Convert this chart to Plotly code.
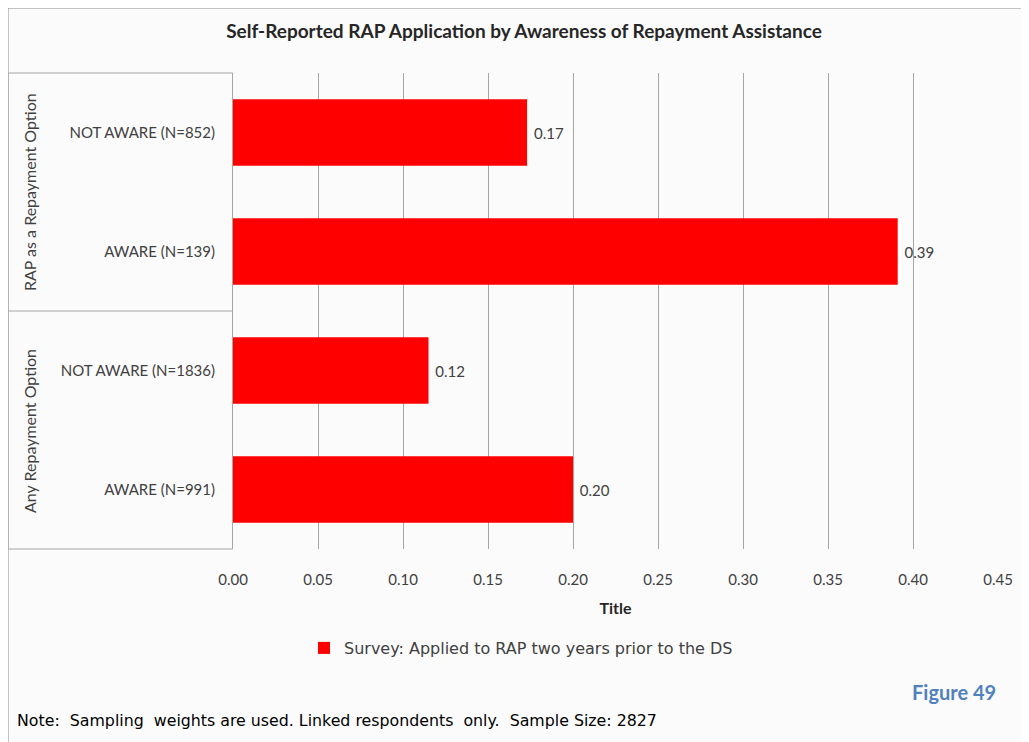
import plotly.graph_objects as go

# chart data
categories = ["NOT AWARE (N=852)", "AWARE (N=139)", "NOT AWARE (N=1836)", "AWARE (N=991)"]
applied_rap = [0.173, 0.391, 0.115, 0.200]
groups = ["RAP as a Repayment Option", "Any Repayment Option"]
x_ticks = [0.00, 0.05, 0.10, 0.15, 0.20, 0.25, 0.30, 0.35, 0.40, 0.45]
series_name = "Survey: Applied to RAP two years prior to the DS"

W, H = 1029, 742
OFF = 8  # page body margin
FONT = "Lato"
WIDE = "DejaVu Sans"


def px(x):
    return (x - OFF) / W


def py(y):
    return 1 - (y - OFF) / H


fig = go.Figure()

fig.add_trace(go.Bar(
    x=applied_rap,
    y=categories,
    orientation="h",
    marker=dict(color="#ff0000", line=dict(width=0)),
    text=applied_rap,
    texttemplate="&nbsp;%{x:.2f}",
    textposition="outside",
    textfont=dict(family=FONT, size=15, color="#404040"),
    cliponaxis=False,
    name=series_name,
    showlegend=True,
))

grid_color = "#a6a6a6"
box_color = "#a6a6a6"

shapes = [
    # outer chart frame
    dict(type="rect", xref="paper", yref="paper", x0=px(8), x1=px(1060),
         y0=py(780), y1=py(8), line=dict(color="#8c8c8c", width=1),
         fillcolor="#fbfbfb", layer="below"),
    # category group box
    dict(type="rect", xref="paper", yref="paper", x0=px(8), x1=px(232.5),
         y0=py(549), y1=py(73), line=dict(color=box_color, width=1)),
    dict(type="line", xref="paper", yref="paper", x0=px(8), x1=px(232.5),
         y0=py(311), y1=py(311), line=dict(color=box_color, width=1)),
]

annotations = [
    dict(text=groups[0], x=px(29), y=py(192), xref="paper", yref="paper",
         xanchor="center", yanchor="middle",
         textangle=-90, showarrow=False, font=dict(family=FONT, size=16, color="#404040")),
    dict(text=groups[1], x=px(29), y=py(431), xref="paper", yref="paper",
         xanchor="center", yanchor="middle",
         textangle=-90, showarrow=False, font=dict(family=FONT, size=16, color="#404040")),
    dict(text="<b>Figure 49</b>", x=px(998), y=py(692), xref="paper", yref="paper",
         xanchor="right", yanchor="middle", showarrow=False,
         font=dict(family=FONT, size=20, color="#4f81bd")),
    dict(text="Note:&nbsp; Sampling&nbsp; weights are used. Linked respondents&nbsp; only.&nbsp; Sample Size: 2827",
         x=px(15), y=py(720), xref="paper", yref="paper", xanchor="left", yanchor="middle",
         showarrow=False, font=dict(family=WIDE, size=15.8, color="#000000")),
]

fig.update_layout(
    width=W, height=H,
    margin=dict(l=0, r=0, t=0, b=0),
    paper_bgcolor="#ffffff",
    plot_bgcolor="rgba(0,0,0,0)",
    font=dict(family=FONT, size=15, color="#404040"),
    title=dict(text="<b>Self-Reported RAP Application by Awareness of Repayment Assistance</b>",
               x=px(524), xanchor="center", y=py(31), yanchor="middle",
               font=dict(family=FONT, size=19, color="#262626")),
    bargap=0.44,
    shapes=shapes,
    annotations=annotations,
    legend=dict(orientation="h", x=px(521), xanchor="center", y=py(648), yanchor="middle",
                font=dict(family=WIDE, size=16, color="#404040"),
                bgcolor="rgba(0,0,0,0)", itemwidth=30),
    xaxis=dict(
        domain=[px(233), px(998)],
        range=[0, 0.45],
        tickvals=x_ticks,
        tickformat=".2f",
        showgrid=True, gridcolor=grid_color, gridwidth=1,
        zeroline=False, showline=False,
        ticks="outside", ticklen=17, tickcolor="rgba(0,0,0,0)",
        tickfont=dict(family=FONT, size=15, color="#404040"),
        title=dict(text="<b>Title</b>", standoff=15,
                   font=dict(family=FONT, size=16, color="#262626")),
        automargin=False,
        fixedrange=True,
    ),
    yaxis=dict(
        domain=[py(549), py(73)],
        autorange="reversed",
        showgrid=False, zeroline=False, showline=False,
        ticks="outside", ticklen=14, tickcolor="rgba(0,0,0,0)",
        tickfont=dict(family=FONT, size=15, color="#404040"),
        automargin=False,
        fixedrange=True,
    ),
)

fig.write_html("out.html")
